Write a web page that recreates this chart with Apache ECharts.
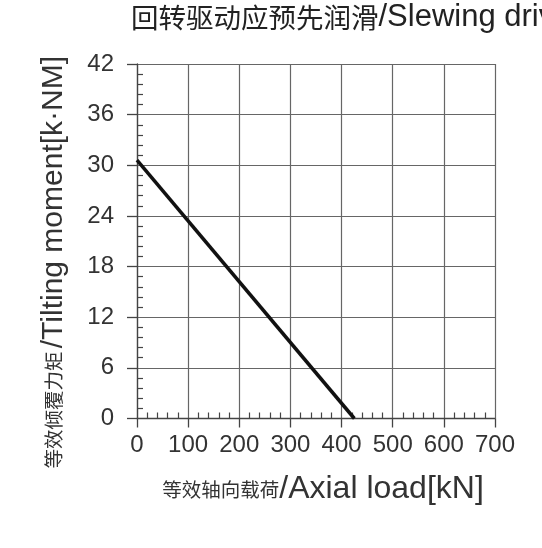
<!DOCTYPE html>
<html>
<head>
<meta charset="utf-8">
<script src="https://cdn.jsdelivr.net/npm/echarts@6/dist/echarts.min.js"></script>
<style>
html,body{margin:0;padding:0;background:#fff;}
#chart{width:542px;height:548px;}
</style>
</head>
<body>
<div id="chart"></div>
<script>
// ---- data ----
const axialLoad = [0, 425];          // kN
const tiltingMoment = [30.6, 0];     // kN·m
const xTicks = [0, 100, 200, 300, 400, 500, 600, 700];
const yTicks = [0, 6, 12, 18, 24, 30, 36, 42];
const titleCn = '回转驱动应预先润滑';
const titleEn = '/Slewing drive';
const xNameCn = '等效轴向载荷';
const xNameEn = '/Axial load[kN]';
const yNameCn = '等效倾覆力矩';
const yNameEn = '/Tilting moment[k·NM]';

const lineData = axialLoad.map((x, i) => [x, tiltingMoment[i]]);

const lib = '"Liberation Sans", Arial, sans-serif';
const cjk = '"Noto Sans CJK SC", sans-serif';
const gridCol = '#666';
const txtCol = '#333';

const chart = echarts.init(document.getElementById('chart'), null, {renderer: 'canvas'});
chart.setOption({
  backgroundColor: '#fff',
  animation: false,
  title: {
    text: '{cn|' + titleCn + '}{en|' + titleEn + '}',
    left: 131,
    top: 2,
    padding: 0,
    textStyle: {
      fontWeight: 'normal',
      rich: {
        cn: {fontFamily: cjk, fontSize: 27.5, fontWeight: 'normal', color: '#222'},
        en: {fontFamily: lib, fontSize: 31, fontWeight: 'normal', color: '#222'}
      }
    }
  },
  grid: {left: 137, top: 64, width: 358, height: 354.5, containLabel: false},
  xAxis: {
    type: 'value',
    min: xTicks[0],
    max: xTicks[xTicks.length - 1],
    interval: xTicks[1] - xTicks[0],
    name: '{cn|' + xNameCn + '}{en|' + xNameEn + '}',
    nameLocation: 'middle',
    nameGap: 55,
    nameTextStyle: {
      padding: [0, 0, 0, 14],
      rich: {
        cn: {fontFamily: cjk, fontSize: 19.5, color: txtCol},
        en: {fontFamily: lib, fontSize: 32, color: txtCol}
      }
    },
    axisLine: {show: true, lineStyle: {color: '#444', width: 1.3}},
    axisTick: {show: true, inside: false, length: 9, lineStyle: {color: '#444', width: 1.3}},
    minorTick: {show: true, splitNumber: 5, length: -6, lineStyle: {color: '#444', width: 1.2}},
    splitLine: {show: true, lineStyle: {color: gridCol, width: 1.2}},
    axisLabel: {
      margin: 15,
      fontFamily: lib,
      fontSize: 24,
      color: txtCol,
      showMinLabel: true,
      showMaxLabel: true
    }
  },
  yAxis: {
    type: 'value',
    min: yTicks[0],
    max: yTicks[yTicks.length - 1],
    interval: yTicks[1] - yTicks[0],
    name: '{cn|' + yNameCn + '} {en|' + yNameEn + '}',
    nameLocation: 'middle',
    nameGap: 68,
    nameRotate: 90,
    nameTextStyle: {
      padding: [0, 42, 0, 0],
      rich: {
        cn: {fontFamily: cjk, fontSize: 19.5, color: txtCol},
        en: {fontFamily: lib, fontSize: 30, color: txtCol}
      }
    },
    axisLine: {show: true, lineStyle: {color: '#444', width: 1.3}},
    axisTick: {show: true, inside: false, length: 10, lineStyle: {color: '#444', width: 1.3}},
    minorTick: {show: true, splitNumber: 5, length: -6, lineStyle: {color: '#444', width: 1.2}},
    splitLine: {show: true, lineStyle: {color: gridCol, width: 1.2}},
    axisLabel: {
      margin: 23,
      fontFamily: lib,
      fontSize: 24,
      color: txtCol
    }
  },
  series: [{
    type: 'line',
    data: lineData,
    symbol: 'none',
    lineStyle: {color: '#111', width: 3.5},
    silent: true
  }]
});
</script>
</body>
</html>
